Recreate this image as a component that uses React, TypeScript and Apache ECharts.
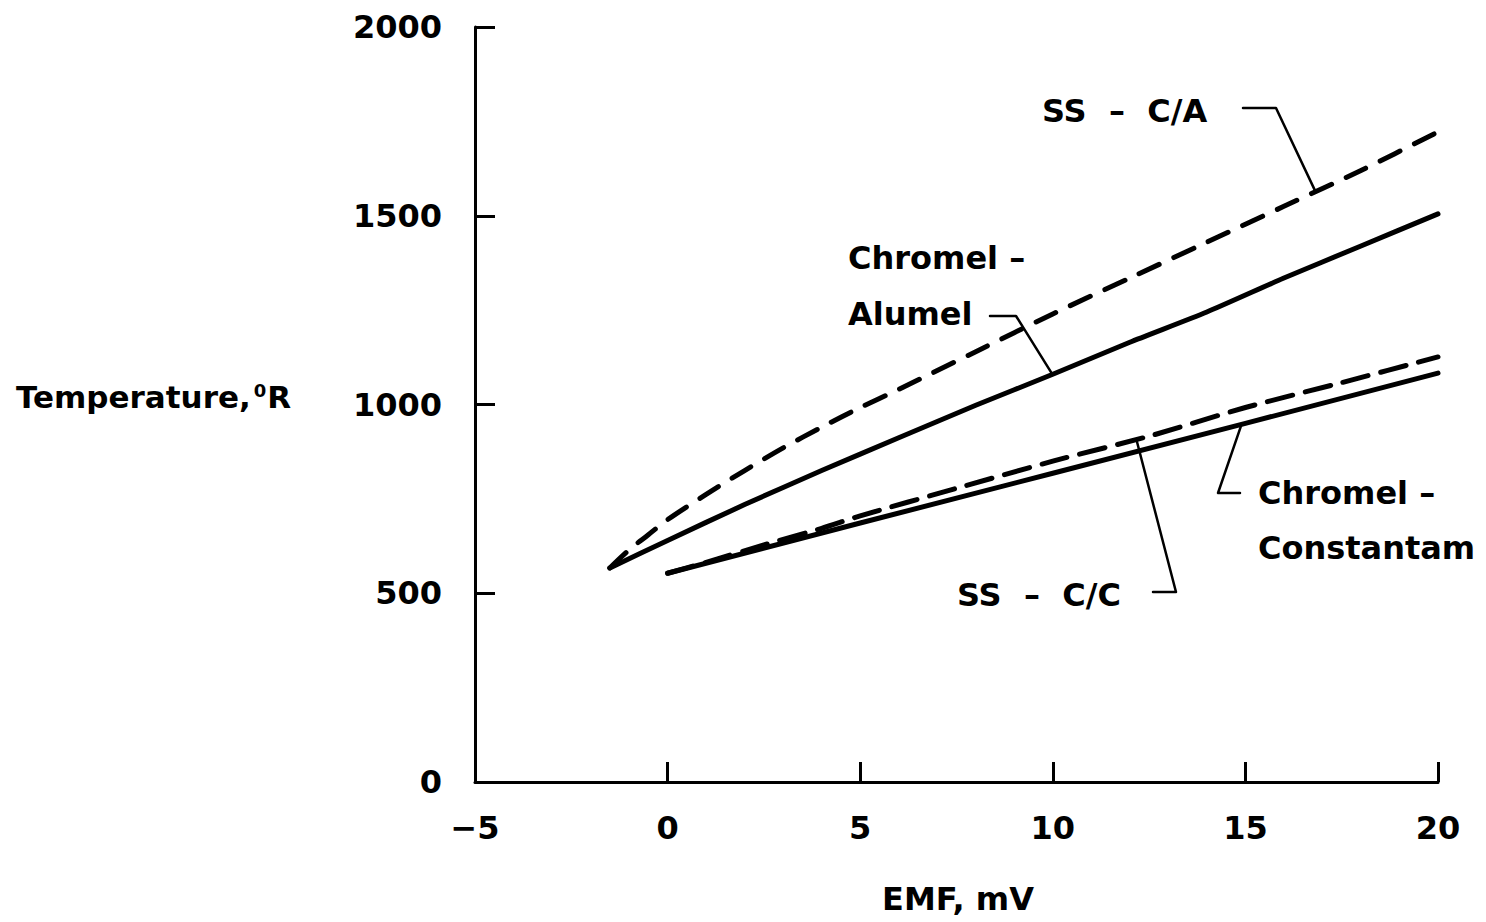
import React, { useEffect, useRef } from 'react';
import * as echarts from 'echarts';

// SS - C/A (dashed)
const ssCAx = [-1.5, -1, -0.5, 0, 1, 2, 3, 4, 5, 6, 8, 10, 12, 14, 16, 18, 20];
const ssCAy = [567, 615, 655, 695, 762, 825, 885, 940, 992, 1040, 1140, 1240, 1335, 1430, 1525, 1620, 1722];
// Chromel - Alumel (solid)
const caX = [-1.5, 0, 2, 4, 6, 8, 10, 12, 14, 16, 18, 20];
const caY = [567, 640, 735, 825, 912, 998, 1080, 1165, 1245, 1335, 1420, 1505];
// Chromel - Constantam (solid)
const ccX = [0, 5, 10, 15, 20];
const ccY = [553, 686, 818, 950, 1083];
// SS - C/C (dashed)
const ssCCx = [0, 1, 2.5, 4, 5, 7.5, 10, 12.5, 15, 17.5, 20];
const ssCCy = [553, 582, 628, 672, 705, 778, 850, 916, 992, 1058, 1126];

const X_MIN = -5, X_MAX = 20, X_STEP = 5;
const Y_MIN = 0, Y_MAX = 2000, Y_STEP = 500;

const FONT = 'DejaVu Sans';

function interp(xs: number[], ys: number[], x: number): number {
  for (let i = 0; i < xs.length - 1; i++) {
    if (x >= xs[i] && x <= xs[i + 1]) {
      const t = (x - xs[i]) / (xs[i + 1] - xs[i]);
      return ys[i] + t * (ys[i + 1] - ys[i]);
    }
  }
  return ys[ys.length - 1];
}

export default function App() {
  const ref = useRef<HTMLDivElement>(null);
  useEffect(() => {
    const chart = echarts.init(ref.current!, null, { renderer: 'svg' });
    const pair = (xs: number[], ys: number[]) => xs.map((x, i) => [x, ys[i]]);
    const solid = { color: '#000', width: 5, cap: 'round', join: 'round' };
    const axisText = { color: '#000', fontFamily: FONT, fontWeight: 'bold', fontSize: 32 };
    chart.setOption({
      animation: false,
      backgroundColor: '#fff',
      grid: { left: 475, top: 27, width: 963, height: 755, containLabel: false },
      xAxis: {
        type: 'value', min: X_MIN, max: X_MAX, interval: X_STEP,
        axisLine: { show: true, onZero: false, lineStyle: { color: '#000', width: 3 } },
        axisTick: { show: true, inside: true, length: 20, lineStyle: { color: '#000', width: 3 } },
        axisLabel: { ...axisText, margin: 30, formatter: (v: number) => (v < 0 ? '\u2212' + Math.abs(v) : String(v)) },
        splitLine: { show: false },
      },
      yAxis: {
        type: 'value', min: Y_MIN, max: Y_MAX, interval: Y_STEP,
        axisLine: { show: true, onZero: false, lineStyle: { color: '#000', width: 3 } },
        axisTick: { show: true, inside: true, length: 20, lineStyle: { color: '#000', width: 3 } },
        axisLabel: { ...axisText, margin: 33, formatter: (v: number) => String(v) },
        splitLine: { show: false },
      },
      series: [
        { name: 'SS - C/A', type: 'line', data: pair(ssCAx, ssCAy), symbol: 'none', smooth: 0.3, lineStyle: { ...solid, type: [22, 16] } },
        { name: 'Chromel - Alumel', type: 'line', data: pair(caX, caY), symbol: 'none', smooth: 0.2, lineStyle: { ...solid } },
        { name: 'Chromel - Constantam', type: 'line', data: pair(ccX, ccY), symbol: 'none', lineStyle: { ...solid } },
        { name: 'SS - C/C', type: 'line', data: pair(ssCCx, ssCCy), symbol: 'none', smooth: 0.2, lineStyle: { ...solid, type: [26, 13] } },
      ],
    });

    const P = (x: number, y: number) => chart.convertToPixel({ gridIndex: 0 }, [x, y]) as number[];
    const leaderStyle = { stroke: '#000', lineWidth: 2.5, fill: null, lineCap: 'round', lineJoin: 'round' };
    const leaders = [
      [[1243, 108], [1276, 108], P(16.82, interp(ssCAx, ssCAy, 16.82))],
      [[990, 316], [1016, 316], P(9.99, interp(caX, caY, 9.99))],
      [P(14.9, interp(ccX, ccY, 14.9)), [1218, 493], [1240, 493]],
      [[1153, 592], [1176, 592], P(12.17, interp(ssCCx, ssCCy, 12.17))],
    ];
    const labels = [
      { text: 'SS  \u2013  C/A', x: 1042, y: 111 },
      { text: 'Chromel \u2013', x: 848, y: 258 },
      { text: 'Alumel', x: 848, y: 314 },
      { text: 'Chromel \u2013', x: 1258, y: 493 },
      { text: 'Constantam', x: 1258, y: 548 },
      { text: 'SS  \u2013  C/C', x: 957, y: 595 },
    ];
    const graphic: any[] = [];
    leaders.forEach((pts) => graphic.push({ type: 'polyline', shape: { points: pts }, style: leaderStyle, silent: true }));
    labels.forEach((l) =>
      graphic.push({
        type: 'text', x: l.x, y: l.y, silent: true,
        style: { text: l.text, fill: '#000', fontFamily: FONT, fontWeight: 'bold', fontSize: 32, align: 'left', verticalAlign: 'middle' },
      })
    );
    graphic.push({
      type: 'text', x: 958, y: 899, silent: true,
      style: { text: 'EMF, mV', fill: '#000', fontFamily: FONT, fontWeight: 'bold', fontSize: 32, align: 'center', verticalAlign: 'middle' },
    });
    graphic.push({
      type: 'text', x: 16, y: 397, silent: true,
      style: {
        text: 'Temperature,{s|0}R', fill: '#000', fontFamily: FONT, fontWeight: 'bold', fontSize: 31, align: 'left', verticalAlign: 'middle',
        rich: { s: { fontFamily: FONT, fontWeight: 'bold', fontSize: 18, fill: '#000', verticalAlign: 'top', padding: [0, 1, 0, 3] } },
      },
    });
    chart.setOption({ graphic });

    return () => chart.dispose();
  }, []);
  return <div ref={ref} style={{ position: 'fixed', left: 0, top: 0, width: 1486, height: 922, background: '#fff' }} />;
}
